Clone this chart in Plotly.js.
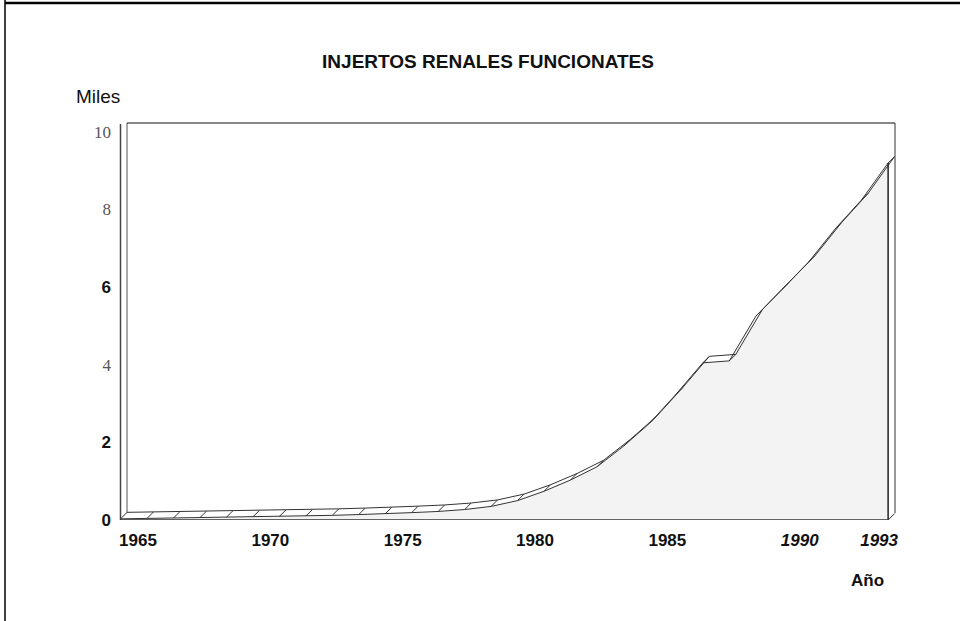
<!DOCTYPE html>
<html><head><meta charset="utf-8">
<script src="https://cdn.plot.ly/plotly-3.0.1.min.js"></script>
<style>html,body{margin:0;padding:0;background:#fff}#chart{width:960px;height:621px}</style>
</head><body><div id="chart"></div>
<script>
const years = [1964,1965,1966,1967,1968,1969,1970,1971,1972,1973,1974,1975,1976,1977,1978,1979,1980,1981,1982,1983,1984,1985,1986,1987,1988,1989,1990,1991,1992,1993];
const values = [0.03,0.04,0.05,0.06,0.07,0.08,0.09,0.10,0.12,0.14,0.16,0.19,0.22,0.27,0.35,0.50,0.74,1.03,1.37,1.90,2.50,3.25,4.05,4.10,5.25,5.95,6.65,7.50,8.25,9.20];
const xTickYears = [1965,1970,1975,1980,1985,1990,1993];
const xTickLabels = ['1965','1970','1975','1980','1985','1990','1993'];
const italicTicks = ['1990','1993'];
const yTickValues = [0,2,4,6,8,10];
const yTickLabels = ['0','2','4','6','8','10'];
const serifTicks = ['4','8','10'];

const W = 960, H = 621;
const M = {l:120, r:65, t:123, b:101};
const PW = W - M.l - M.r, PH = H - M.t - M.b;
const xRange = [1963.98, 1993.26];
const yRange = [0, 10.23];
const depthPx = 6.5;
const dx = depthPx * (xRange[1]-xRange[0]) / PW;
const dy = depthPx * (yRange[1]-yRange[0]) / PH;
const xp = px => (px - M.l) / PW;
const yp = py => (H - M.b - py) / PH;

const backX = years.map(v => v + dx);
const backY = values.map(v => v + dy);
const hx = [], hy = [];
years.forEach((yr, i) => { hx.push(yr, yr + dx, null); hy.push(values[i], values[i] + dy, null); });
const last = years.length - 1;

const lineStyle = {color:'#333', width:1};
const traces = [
  {x: years, y: values, type:'scatter', mode:'lines', fill:'tozeroy', fillcolor:'#f3f3f3', line:lineStyle, hoverinfo:'skip'},
  {x: backX, y: backY, type:'scatter', mode:'lines', line:lineStyle, hoverinfo:'skip'},
  {x: hx, y: hy, type:'scatter', mode:'lines', line:lineStyle, hoverinfo:'skip'},
  {x: [years[last], years[last]], y: [0, values[last]], type:'scatter', mode:'lines', line:{color:'#222', width:1.5}, hoverinfo:'skip'}
];

const xText = xTickLabels.map(t => italicTicks.includes(t) ? '<i>' + t + '</i>' : t);
const yText = yTickLabels.map(t => serifTicks.includes(t) ? '<span style="font-family:\'Liberation Serif\';font-weight:normal;fill:#555">' + t + '</span>' : t);
const tickFont = {family:'Liberation Sans, Arial, sans-serif', size:17, color:'#111', weight:'bold'};

const seg = (x0,y0,x1,y1,w,c) => ({type:'line', xref:'paper', yref:'paper', x0:x0, y0:y0, x1:x1, y1:y1, line:{color:c||'#222', width:w||1}});
const shapes = [
  seg(xp(5), yp(0), xp(5), yp(621), 1.5, '#000'),
  seg(xp(5), yp(3), xp(960), yp(3), 2.5, '#000'),
  seg(xp(120.5), yp(124), xp(120.5), yp(520), 1.5, '#444'),
  seg(xp(127), yp(123), xp(127), yp(513), 1, '#555'),
  seg(xp(127), yp(123), xp(895), yp(123), 1.2, '#111'),
  seg(xp(895), yp(123), xp(895), yp(513), 1, '#333'),
  {type:'line', xref:'x', yref:'y', x0:years[0], y0:0, x1:years[last], y1:0, line:{color:'#333', width:1.5}},
  {type:'line', xref:'x', yref:'y', x0:years[last], y0:0, x1:years[last]+dx, y1:dy, line:{color:'#333', width:1}}
];

const layout = {
  width: W, height: H, showlegend:false,
  paper_bgcolor:'#fff', plot_bgcolor:'rgba(0,0,0,0)',
  margin: {l:M.l, r:M.r, t:M.t, b:M.b, pad:0},
  title: {text:'INJERTOS RENALES FUNCIONATES', font:{family:'Liberation Sans, Arial, sans-serif', size:19, color:'#111', weight:'bold'},
          xref:'container', yref:'container', x:488/W, xanchor:'center', y:1-61/H, yanchor:'middle'},
  xaxis: {range:xRange, showgrid:false, zeroline:false, showline:false, ticks:'', tickvals:xTickYears, ticktext:xText,
          tickfont:tickFont, ticklabelshift:-9, ticklabelstandoff:8, fixedrange:true},
  yaxis: {range:yRange, showgrid:false, zeroline:false, showline:false, ticks:'', tickvals:yTickValues, ticktext:yText,
          tickfont:tickFont, ticklabelstandoff:8, fixedrange:true},
  shapes: shapes,
  annotations: [
    {text:'Miles', xref:'paper', yref:'paper', x:xp(74), y:yp(96), xanchor:'left', yanchor:'middle', showarrow:false,
     font:{family:'Liberation Sans, Arial, sans-serif', size:19, color:'#111'}},
    {text:'Año', xref:'paper', yref:'paper', x:xp(886), y:yp(580), xanchor:'right', yanchor:'middle', showarrow:false,
     font:{family:'Liberation Sans, Arial, sans-serif', size:17, color:'#111', weight:'bold'}}
  ]
};
Plotly.newPlot('chart', traces, layout, {staticPlot:true, displayModeBar:false});
</script>
</body></html>
